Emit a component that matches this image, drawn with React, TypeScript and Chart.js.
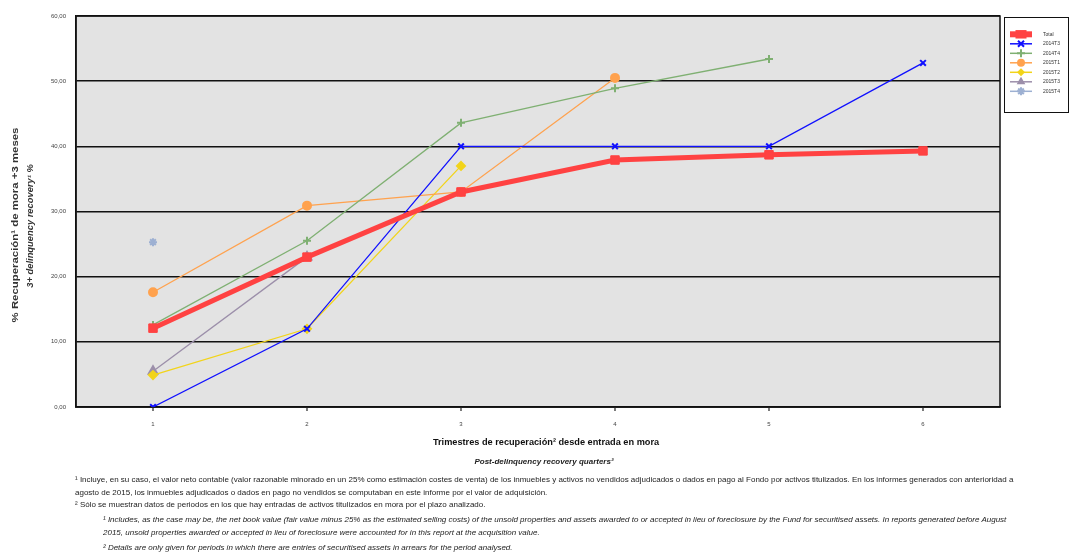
import React, { useEffect, useRef } from "react";
import { Chart, registerables } from "chart.js";

Chart.register(...registerables);

const categories = ["1", "2", "3", "4", "5", "6"];
const yTicks = [0, 10, 20, 30, 40, 50, 60];

const seriesNames = ["Total", "2014T3", "2014T4", "2015T1", "2015T2", "2015T3", "2015T4"];
const total = [12.1, 23.0, 33.0, 37.9, 38.7, 39.3];
const s2014T3 = [0.0, 12.0, 40.0, 40.0, 40.0, 52.8];
const s2014T4 = [12.6, 25.5, 43.6, 48.9, 53.4, null];
const s2015T1 = [17.6, 30.9, 33.0, 50.5, null, null];
const s2015T2 = [4.9, 12.0, 37.0, null, null, null];
const s2015T3 = [5.5, 23.0, null, null, null, null];
const s2015T4 = [25.3, null, null, null, null, null];

const seriesValues = [total, s2014T3, s2014T4, s2015T1, s2015T2, s2015T3, s2015T4];
const seriesColors = ["#FF4242", "#1010FF", "#7FB072", "#FFA24E", "#F2D41A", "#9C8FAA", "#9DB0D2"];
const seriesPoints = ["rect", "crossRot", "cross", "circle", "rectRot", "triangle", "star"];
const seriesRadius = [6, 4, 4, 4, 4, 5, 4];
const seriesLineWidth = [5, 1.3, 1.3, 1.3, 1.3, 1.3, 1.3];

const FONT = "'Liberation Sans', Arial, sans-serif";

const plotFrame = {
  id: "plotFrame",
  beforeDraw(chart: any) {
    const { ctx, chartArea: a } = chart;
    ctx.save();
    ctx.fillStyle = "#E3E3E3";
    ctx.fillRect(a.left, a.top, a.right - a.left, a.bottom - a.top);
    ctx.restore();
  },
  beforeDatasetsDraw(chart: any) {
    const { ctx, chartArea: a } = chart;
    ctx.save();
    ctx.strokeStyle = "#111";
    ctx.lineWidth = 1.5;
    ctx.strokeRect(a.left, a.top, a.right - a.left, a.bottom - a.top);
    const xs = chart.scales.x;
    ctx.lineWidth = 1.2;
    ctx.strokeStyle = "#222";
    xs.ticks.forEach((_t: any, i: number) => {
      const px = xs.getPixelForTick(i);
      ctx.beginPath();
      ctx.moveTo(px, a.bottom);
      ctx.lineTo(px, a.bottom + 4);
      ctx.stroke();
    });
    ctx.restore();
  },
};

const customLegend = {
  id: "customLegend",
  afterDraw(chart: any) {
    const { ctx } = chart;
    const bx = 1004, by = 17, bw = 64, bh = 95;
    ctx.save();
    ctx.fillStyle = "#fff";
    ctx.fillRect(bx, by, bw, bh);
    ctx.strokeStyle = "#111";
    ctx.lineWidth = 1;
    ctx.strokeRect(bx + 0.5, by + 0.5, bw, bh);
    chart.data.datasets.forEach((ds: any, i: number) => {
      const y = 34.3 + i * 9.5;
      ctx.strokeStyle = ds.borderColor;
      ctx.lineWidth = i === 0 ? 6 : 1.5;
      ctx.beginPath();
      ctx.moveTo(1010, y);
      ctx.lineTo(1032, y);
      ctx.stroke();
      ctx.fillStyle = ds.borderColor;
      ctx.strokeStyle = ds.borderColor;
      ctx.lineWidth = ds.pointBorderWidth;
      drawPointShape(ctx, ds.pointStyle, i === 0 ? 6 : ds.pointRadius, 1021, y);
      ctx.fillStyle = "#333";
      ctx.font = `5px ${FONT}`;
      ctx.textBaseline = "middle";
      ctx.textAlign = "left";
      ctx.fillText(ds.label, 1043, y);
    });
    ctx.restore();
  },
};

function drawPointShape(ctx: CanvasRenderingContext2D, style: string, r: number, x: number, y: number) {
  ctx.beginPath();
  switch (style) {
    case "rect": {
      const s = Math.SQRT1_2 * r;
      ctx.rect(x - s * 1.3, y - s, s * 2.6, s * 2);
      ctx.fill();
      break;
    }
    case "circle":
      ctx.arc(x, y, r, 0, Math.PI * 2);
      ctx.fill();
      break;
    case "rectRot":
      ctx.moveTo(x, y - r);
      ctx.lineTo(x + r, y);
      ctx.lineTo(x, y + r);
      ctx.lineTo(x - r, y);
      ctx.closePath();
      ctx.fill();
      break;
    case "triangle":
      ctx.moveTo(x, y - r);
      ctx.lineTo(x + r * 0.87, y + r * 0.5);
      ctx.lineTo(x - r * 0.87, y + r * 0.5);
      ctx.closePath();
      ctx.fill();
      break;
    case "cross":
      ctx.moveTo(x, y - r);
      ctx.lineTo(x, y + r);
      ctx.moveTo(x - r, y);
      ctx.lineTo(x + r, y);
      ctx.stroke();
      break;
    case "crossRot": {
      const d = r * 0.75;
      ctx.moveTo(x - d, y - d);
      ctx.lineTo(x + d, y + d);
      ctx.moveTo(x - d, y + d);
      ctx.lineTo(x + d, y - d);
      ctx.stroke();
      break;
    }
    case "star": {
      ctx.moveTo(x, y - r);
      ctx.lineTo(x, y + r);
      ctx.moveTo(x - r, y);
      ctx.lineTo(x + r, y);
      const d = r * 0.7;
      ctx.moveTo(x - d, y - d);
      ctx.lineTo(x + d, y + d);
      ctx.moveTo(x - d, y + d);
      ctx.lineTo(x + d, y - d);
      ctx.stroke();
      break;
    }
  }
}

export default function App() {
  const ref = useRef<HTMLCanvasElement>(null);

  useEffect(() => {
    if (!ref.current) return;
    const chart = new Chart(ref.current, {
      type: "line",
      data: {
        labels: categories,
        datasets: seriesNames.map((name, i) => ({
          label: name,
          data: seriesValues[i],
          borderColor: seriesColors[i],
          backgroundColor: seriesColors[i],
          borderWidth: seriesLineWidth[i],
          pointStyle: seriesPoints[i] as any,
          pointRadius: seriesRadius[i],
          pointBorderWidth: i === 0 ? 1 : 2,
          pointBorderColor: seriesColors[i],
          pointBackgroundColor: seriesColors[i],
          tension: 0,
          spanGaps: false,
          order: i === 0 ? 0 : i,
        })),
      },
      options: {
        animation: false,
        responsive: false,
        maintainAspectRatio: false,
        layout: { padding: { left: 0, top: 16, right: 74, bottom: 119 } },
        plugins: {
          legend: { display: false },
          tooltip: { enabled: false },
          title: { display: false },
        },
        scales: {
          x: {
            type: "category",
            offset: true,
            afterFit: (s: any) => {
              s.height = 30;
            },
            grid: { display: false },
            border: { display: true, color: "#111", width: 1.5 },
            ticks: { font: { family: FONT, size: 6 }, color: "#444", padding: 6 },
          },
          y: {
            min: 0,
            max: 60,
            afterFit: (s: any) => {
              s.width = 76;
            },
            afterBuildTicks: (s: any) => {
              s.ticks = yTicks.map((v) => ({ value: v }));
            },
            grid: { color: "#111", lineWidth: 1.5, drawTicks: false },
            border: { display: true, color: "#111", width: 1.5 },
            ticks: {
              font: { family: FONT, size: 6 },
              color: "#444",
              padding: 10,
              callback: (v: any) => Number(v).toFixed(2).replace(".", ","),
            },
          },
        },
      },
      plugins: [plotFrame, customLegend],
    });
    return () => chart.destroy();
  }, []);

  const note: React.CSSProperties = {
    position: "absolute",
    fontFamily: FONT,
    fontSize: "8px",
    color: "#222",
    whiteSpace: "nowrap",
    lineHeight: "9px",
  };

  return (
    <div style={{ position: "absolute", left: 0, top: 0, width: 1074, height: 556, background: "#fff", overflow: "hidden" }}>
      <canvas ref={ref} width={1074} height={556} style={{ position: "absolute", left: 0, top: 0, width: 1074, height: 556 }} />
      <div
        style={{
          position: "absolute",
          left: 14,
          top: 225,
          transform: "translate(-50%, -50%) rotate(-90deg) scaleX(1.2)",
          fontFamily: FONT,
          fontSize: "9.5px",
          fontWeight: "bold",
          color: "#333",
          whiteSpace: "nowrap",
        }}
      >
        % Recuperación¹ de mora +3 meses
      </div>
      <div
        style={{
          position: "absolute",
          left: 30,
          top: 226,
          transform: "translate(-50%, -50%) rotate(-90deg) scaleX(1.1)",
          fontFamily: FONT,
          fontSize: "8.5px",
          fontWeight: "bold",
          fontStyle: "italic",
          color: "#333",
          whiteSpace: "nowrap",
        }}
      >
        3+ delinquency recovery¹ %
      </div>
      <div
        style={{
          position: "absolute",
          left: 546,
          top: 442,
          transform: "translate(-50%, -50%)",
          fontFamily: FONT,
          fontSize: "9.2px",
          fontWeight: "bold",
          color: "#111",
          whiteSpace: "nowrap",
        }}
      >
        Trimestres de recuperación² desde entrada en mora
      </div>
      <div
        style={{
          position: "absolute",
          left: 544,
          top: 461,
          transform: "translate(-50%, -50%)",
          fontFamily: FONT,
          fontSize: "8px",
          fontWeight: "bold",
          fontStyle: "italic",
          color: "#222",
          whiteSpace: "nowrap",
        }}
      >
        Post-delinquency recovery quarters²
      </div>
      <div style={{ ...note, left: 75, top: 475 }}>
        ¹ Incluye, en su caso, el valor neto contable (valor razonable minorado en un 25% como estimación costes de venta) de los inmuebles y activos no vendidos adjudicados o dados en pago al Fondo por activos titulizados. En los informes generados con anterioridad a
      </div>
      <div style={{ ...note, left: 75, top: 488 }}>
        agosto de 2015, los inmuebles adjudicados o dados en pago no vendidos se computaban en este informe por el valor de adquisición.
      </div>
      <div style={{ ...note, left: 75, top: 500 }}>
        ² Sólo se muestran datos de periodos en los que hay entradas de activos titulizados en mora por el plazo analizado.
      </div>
      <div style={{ ...note, left: 103, top: 515, fontStyle: "italic" }}>
        ¹ Includes, as the case may be, the net book value (fair value minus 25% as the estimated selling costs) of the unsold properties and assets awarded to or accepted in lieu of foreclosure by the Fund for securitised assets. In reports generated before August
      </div>
      <div style={{ ...note, left: 103, top: 528, fontStyle: "italic" }}>
        2015, unsold properties awarded or accepted in lieu of foreclosure were accounted for in this report at the acquisition value.
      </div>
      <div style={{ ...note, left: 103, top: 543, fontStyle: "italic" }}>
        ² Details are only given for periods in which there are entries of securitised assets in arrears for the period analysed.
      </div>
    </div>
  );
}
